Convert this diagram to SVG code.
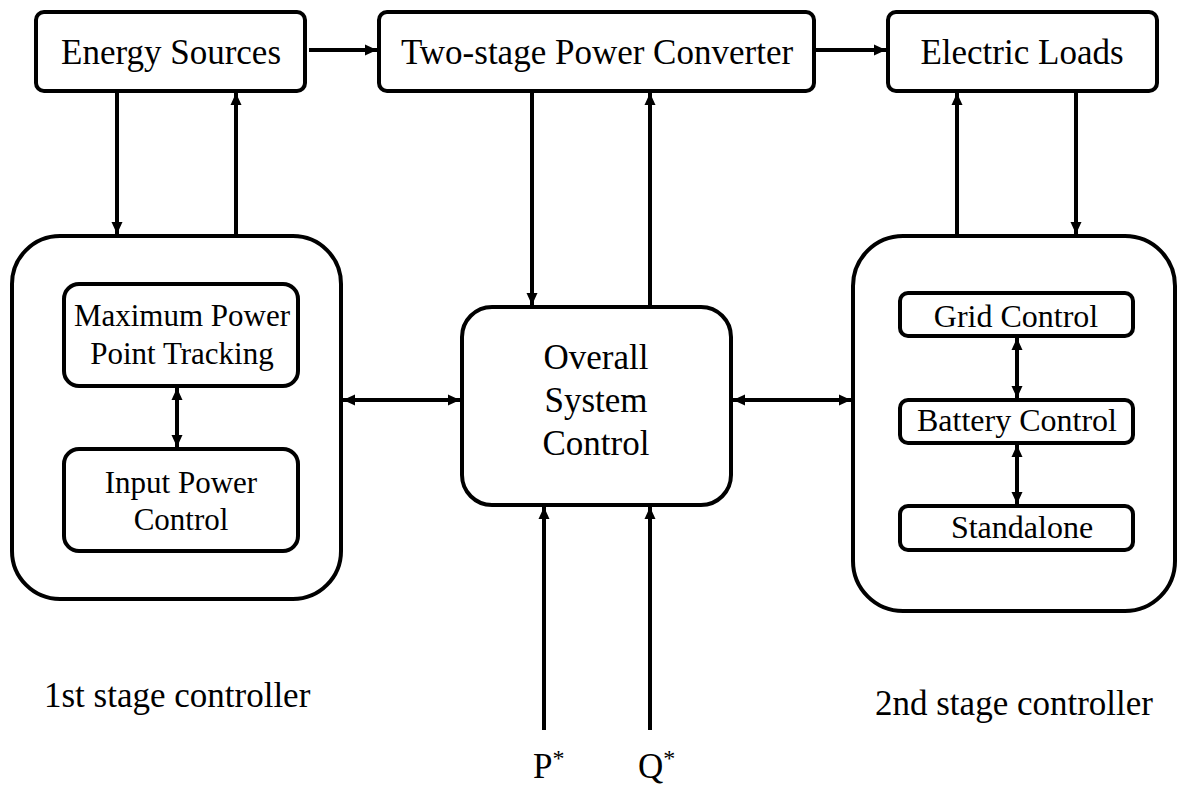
<svg xmlns="http://www.w3.org/2000/svg" width="1177" height="789" viewBox="0 0 1177 789">
<style>
.box{fill:#fff;stroke:#000;stroke-width:4}
.t{font-family:"Liberation Serif","Times New Roman",serif;fill:#000;text-anchor:middle}
.f35{font-size:35px}
.f31{font-size:31px}
.f32{font-size:32px}
.c{fill:none;stroke:#000;stroke-width:4}
.a{marker-end:url(#ah)}
.d{marker-start:url(#ah);marker-end:url(#ah)}
</style>
<defs>
<marker id="ah" markerUnits="userSpaceOnUse" markerWidth="13" markerHeight="13" refX="12" refY="6.5" orient="auto-start-reverse" viewBox="0 0 13 13">
<path d="M0,1 L12,6.5 L0,12 z" fill="#000"/>
</marker>
</defs>
<rect width="1177" height="789" fill="#fff"/>
<g id="energy-sources">
<rect class="box" x="36" y="12" width="269" height="79" rx="8"/>
<text class="t f35" x="171" y="64">Energy Sources</text>
</g>
<g id="power-converter">
<rect class="box" x="379" y="12" width="435" height="79" rx="8"/>
<text class="t f35" x="597" y="64">Two-stage Power Converter</text>
</g>
<g id="electric-loads">
<rect class="box" x="888" y="12" width="269" height="79" rx="8"/>
<text class="t f35" x="1022" y="64">Electric Loads</text>
</g>
<g id="first-stage">
<rect class="box" x="12" y="236" width="329" height="363" rx="48"/>
</g>
<g id="mppt">
<rect class="box" x="64" y="284" width="234" height="102" rx="15"/>
<text class="t f31" x="182" y="326">Maximum Power</text>
<text class="t f31" x="182" y="364">Point Tracking</text>
</g>
<g id="input-power">
<rect class="box" x="64" y="449" width="234" height="102" rx="15"/>
<text class="t f31" x="181" y="493">Input Power</text>
<text class="t f31" x="181" y="530">Control</text>
</g>
<g id="overall">
<rect class="box" x="462" y="307" width="269" height="198" rx="30"/>
<text class="t f35" x="596" y="369">Overall</text>
<text class="t f35" x="596" y="412">System</text>
<text class="t f35" x="596" y="455">Control</text>
</g>
<g id="second-stage">
<rect class="box" x="853" y="236" width="322" height="375" rx="50"/>
</g>
<g id="grid">
<rect class="box" x="900" y="293" width="233" height="43" rx="8"/>
<text class="t f32" x="1016" y="327">Grid Control</text>
</g>
<g id="battery">
<rect class="box" x="900" y="400" width="233" height="43" rx="8"/>
<text class="t f32" x="1017" y="431">Battery Control</text>
</g>
<g id="standalone">
<rect class="box" x="900" y="506" width="233" height="44" rx="8"/>
<text class="t f32" x="1022" y="538">Standalone</text>
</g>
<g id="labels">
<text class="t f35" x="44" y="707" style="text-anchor:start">1st stage controller</text>
<text class="t f35" x="875" y="715" style="text-anchor:start">2nd stage controller</text>
<text class="t f35" x="533" y="778" style="text-anchor:start">P<tspan font-size="24" dy="-12">*</tspan></text>
<text class="t f35" x="638" y="778" style="text-anchor:start">Q<tspan font-size="24" dy="-12">*</tspan></text>
</g>
<g id="connectors">
<line class="c a" x1="309" y1="50" x2="377" y2="50"/>
<line class="c a" x1="816" y1="50" x2="886" y2="50"/>
<line class="c a" x1="117" y1="93" x2="117" y2="234"/>
<line class="c a" x1="236" y1="234" x2="236" y2="93"/>
<line class="c a" x1="532" y1="93" x2="532" y2="305"/>
<line class="c a" x1="650" y1="305" x2="650" y2="93"/>
<line class="c a" x1="957" y1="234" x2="957" y2="93"/>
<line class="c a" x1="1076" y1="93" x2="1076" y2="234"/>
<line class="c d" x1="343" y1="400" x2="460" y2="400"/>
<line class="c d" x1="733" y1="400" x2="851" y2="400"/>
<line class="c d" x1="177" y1="388" x2="177" y2="447"/>
<line class="c d" x1="1017" y1="338" x2="1017" y2="398"/>
<line class="c d" x1="1017" y1="445" x2="1017" y2="504"/>
<line class="c a" x1="544" y1="730" x2="544" y2="507"/>
<line class="c a" x1="650" y1="730" x2="650" y2="507"/>
</g>
</svg>
